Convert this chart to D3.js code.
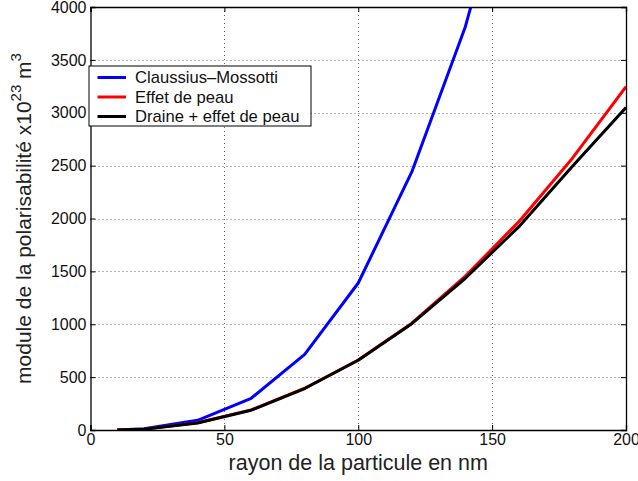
<!DOCTYPE html>
<html><head><meta charset="utf-8">
<script src="https://cdn.jsdelivr.net/npm/d3@7"></script>
<style>body{margin:0;background:#fff}svg{display:block}text{font-family:"Liberation Sans",Arial,sans-serif}</style>
</head><body><div id="chart"></div>
<script>
const radii = [10,20,40,60,80,100,120,140,160,180,200];
const claussius = [1,11,92,300,715,1390,2440,3814,5650,8050,11040];
const effetPeau = [1,8,68,190,395,662,1010,1455,1970,2570,3246];
const draine = [1,8,66,187,392,660,1005,1435,1923,2495,3050];
const xTicks = [0,50,100,150,200];
const yTicks = [0,500,1000,1500,2000,2500,3000,3500,4000];
const seriesNames = ["Claussius\u2013Mossotti","Effet de peau","Draine + effet de peau"];
const seriesColors = ["#0000ff","#ff0000","#000000"];
const seriesData = [claussius, effetPeau, draine];

const W=638,H=481;
const L=90.5,R=626,T=7,B=430;
const svg=d3.select("#chart").append("svg").attr("width",W).attr("height",H);
const x=d3.scaleLinear().domain([0,200]).range([L,R]);
const y=d3.scaleLinear().domain([0,4000]).range([B,T]);

svg.append("clipPath").attr("id","clip").append("rect").attr("x",L).attr("y",T).attr("width",R-L).attr("height",B-T);

// grid
const g=svg.append("g");
g.selectAll(".gx").data(xTicks.slice(1,-1)).join("line")
 .attr("x1",d=>Math.round(x(d))+0.5).attr("x2",d=>Math.round(x(d))+0.5).attr("y1",T).attr("y2",B)
 .attr("stroke","#666").attr("stroke-width",1).attr("stroke-dasharray","1,3");
g.selectAll(".gy").data(yTicks.slice(1,-1)).join("line")
 .attr("y1",d=>Math.round(y(d))+0.5).attr("y2",d=>Math.round(y(d))+0.5).attr("x1",L).attr("x2",R)
 .attr("stroke","#666").attr("stroke-width",1).attr("stroke-dasharray","1,3");

// lines
const line=d3.line().x((d,i)=>x(radii[i])).y(d=>y(d));
const lg=svg.append("g").attr("clip-path","url(#clip)");
seriesData.forEach((s,k)=>{
  lg.append("path").datum(s).attr("d",line).attr("fill","none")
    .attr("stroke",seriesColors[k]).attr("stroke-width",3).attr("stroke-linejoin","round");
});

// axes box + ticks
const fmt=d3.format("d");
const axB=svg.append("g").attr("transform",`translate(0,${B})`).call(d3.axisBottom(x).tickValues(xTicks).tickSize(-5).tickFormat(fmt));
const axT=svg.append("g").attr("transform",`translate(0,${T})`).call(d3.axisTop(x).tickValues(xTicks).tickSize(-5).tickFormat(""));
const axL=svg.append("g").attr("transform",`translate(${L},0)`).call(d3.axisLeft(y).tickValues(yTicks).tickSize(-5).tickFormat(fmt));
const axR=svg.append("g").attr("transform",`translate(${R},0)`).call(d3.axisRight(y).tickValues(yTicks).tickSize(-5).tickFormat(""));
[axB,axT,axL,axR].forEach(a=>{
  a.select(".domain").attr("stroke","#000").attr("stroke-width",1.3);
  a.selectAll(".tick line").attr("stroke","#000");
  a.selectAll("text").attr("font-family","Liberation Sans, Arial, sans-serif").attr("font-size",16).attr("fill","#111");
});
axB.selectAll(".tick text").attr("dy","0.71em").attr("y",4);
axL.selectAll(".tick text").attr("x",-4);

// axis labels
svg.append("text").attr("x",(L+R)/2).attr("y",470).attr("text-anchor","middle")
  .attr("font-size",21.5).attr("fill","#222").text("rayon de la particule en nm");
const yl=svg.append("text").attr("transform",`translate(31,${(T+B)/2}) rotate(-90)`).attr("text-anchor","middle")
  .attr("font-size",21).attr("fill","#222");
yl.append("tspan").text("module de la polarisabilité x10");
yl.append("tspan").attr("font-size",15).attr("dy",-10).text("23");
yl.append("tspan").attr("dy",10).text(" m");
yl.append("tspan").attr("font-size",15).attr("dy",-10).text("3");

// legend
const leg=svg.append("g");
leg.append("rect").attr("x",89).attr("y",66).attr("width",222).attr("height",60)
  .attr("fill","#fff").attr("stroke","#000").attr("stroke-width",1);
seriesNames.forEach((n,i)=>{
  const cy=77.5+i*19.5;
  leg.append("line").attr("x1",97.5).attr("x2",126).attr("y1",cy).attr("y2",cy)
    .attr("stroke",seriesColors[i]).attr("stroke-width",3);
  leg.append("text").attr("x",135).attr("y",cy+5.5).attr("font-size",16.6).attr("fill","#111").text(n);
});
</script></body></html>
